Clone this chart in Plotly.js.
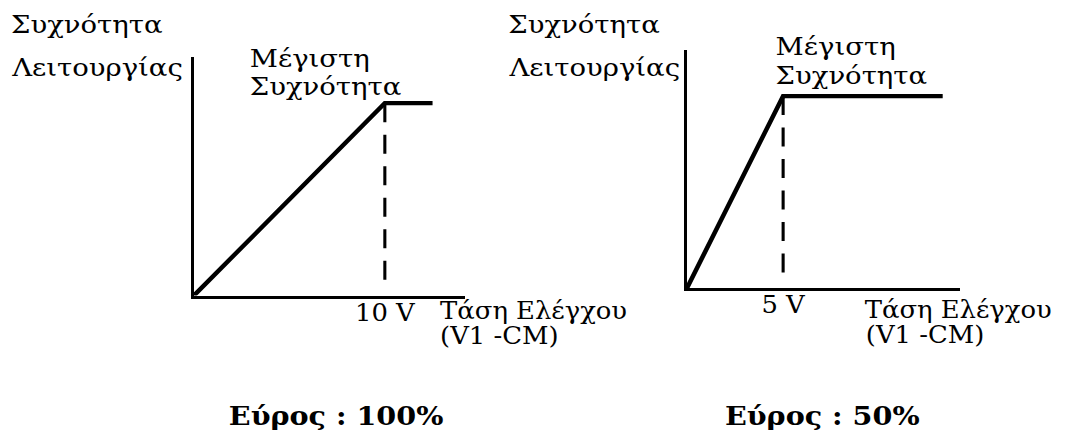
<!DOCTYPE html>
<html>
<head>
<meta charset="utf-8">
<script src="https://cdn.plot.ly/plotly-3.0.1.min.js"></script>
<style>
  html, body { margin: 0; padding: 0; background: #fff; overflow: hidden; }
  #wrap { width: 1066px; height: 432px; overflow: hidden; }
  /* the reference scan is slightly stretched horizontally; draw narrower and stretch */
  #plot { width: 969px; height: 432px; transform: scaleX(1.1001); transform-origin: 0 0; }
</style>
</head>
<body>
<div id="wrap"><div id="plot"></div></div>
<script>
// ---------------- data ----------------
// Left panel (range 100%): control voltage (V) vs operating frequency (fraction of max)
const voltLeft  = [0, 10, 12.5];
const freqLeft  = [0, 1, 1];
// Right panel (range 50%)
const voltRight = [0, 5, 13.3];
const freqRight = [0, 1, 1];
// voltage at which max frequency is reached
const maxVoltLeft  = 10;
const maxVoltRight = 5;
// tick labels
const tickLeft  = ['10 V'];
const tickRight = ['5 V'];
// texts
const yTitleLines   = ['Συχνότητα', 'Λειτουργίας'];
const maxFreqLines  = ['Μέγιστη', 'Συχνότητα'];
const xTitleLines   = ['Τάση Ελέγχου', '(V1 -CM)'];
const rangeLabels   = ['Εύρος : 100%', 'Εύρος : 50%'];

// ---------------- styling / layout helpers ----------------
const FW = 1066, FH = 432;
const FONT = "'DejaVu Serif', 'Liberation Serif', serif";
const px2x = p => p / FW;
const px2y = p => 1 - p / FH;
const dashBottom = 0.08;

function ann(text, left, baseline, size, bold, anchor) {
  return {
    text: text,
    xref: 'paper', yref: 'paper',
    x: px2x(left), y: px2y(baseline - 0.346 * size),
    xanchor: anchor || 'left', yanchor: 'middle',
    showarrow: false, borderpad: 0,
    font: { family: FONT, size: size, color: '#000', weight: bold ? 'bold' : 'normal' }
  };
}

function xax(domainPx, vals, texts) {
  return {
    domain: [px2x(domainPx[0]), px2x(domainPx[1])],
    range: [0, 14.2],
    showline: true, linewidth: 3.2, linecolor: '#000',
    showgrid: false, zeroline: false, ticks: '',
    tickvals: vals, ticktext: texts,
    tickfont: { family: FONT, size: 23.5, color: '#000' },
    ticklabelstandoff: -6,
    fixedrange: true
  };
}
function yax(domainPx) {
  return {
    domain: [px2y(domainPx[1]), px2y(domainPx[0])],
    range: [0, 1.24],
    showline: true, linewidth: 2.9, linecolor: '#000',
    showgrid: false, zeroline: false, ticks: '', showticklabels: false,
    fixedrange: true
  };
}

const traces = [
  { x: voltLeft, y: freqLeft, xaxis: 'x', yaxis: 'y', mode: 'lines',
    line: { color: '#000', width: 4.2 }, hoverinfo: 'skip' },
  { x: [maxVoltLeft, maxVoltLeft], y: [freqLeft[1], dashBottom], xaxis: 'x', yaxis: 'y', mode: 'lines',
    line: { color: '#000', width: 2.8, dash: '19px,12.5px' }, hoverinfo: 'skip' },
  { x: voltRight, y: freqRight, xaxis: 'x2', yaxis: 'y2', mode: 'lines',
    line: { color: '#000', width: 4.2 }, hoverinfo: 'skip' },
  { x: [maxVoltRight, maxVoltRight], y: [freqRight[1], dashBottom], xaxis: 'x2', yaxis: 'y2', mode: 'lines',
    line: { color: '#000', width: 2.8, dash: '19px,12.5px' }, hoverinfo: 'skip' }
];

const annotations = [
  // left panel
  ann(yTitleLines[0], 10, 33, 25),
  ann(yTitleLines[1], 10, 76, 25),
  ann(maxFreqLines[0], 249, 67, 25),
  ann(maxFreqLines[1], 249, 95, 25),
  ann(xTitleLines[0], 439, 319, 23.5),
  ann(xTitleLines[1], 439, 344, 23.5),
  ann(rangeLabels[0], 336, 425, 26, true, 'center'),
  // right panel
  ann(yTitleLines[0], 507, 33, 25),
  ann(yTitleLines[1], 507, 76, 25),
  ann(maxFreqLines[0], 775, 55, 25),
  ann(maxFreqLines[1], 775, 84, 25),
  ann(xTitleLines[0], 864, 318, 23.5),
  ann(xTitleLines[1], 865, 343, 23.5),
  ann(rangeLabels[1], 822, 425, 26, true, 'center')
];

const layout = {
  width: 969, height: 432,
  margin: { l: 0, r: 0, t: 0, b: 0, pad: 0 },
  paper_bgcolor: '#fff', plot_bgcolor: '#fff',
  showlegend: false,
  xaxis: Object.assign(xax([194, 465], [maxVoltLeft], tickLeft), { anchor: 'y' }),
  yaxis: Object.assign(yax([57, 295.5]), { anchor: 'x' }),
  xaxis2: Object.assign(xax([687, 960], [maxVoltRight], tickRight), { anchor: 'y2' }),
  yaxis2: Object.assign(yax([50, 288]), { anchor: 'x2' }),
  annotations: annotations
};

Plotly.newPlot('plot', traces, layout, { displayModeBar: false, staticPlot: true });
</script>
</body>
</html>
